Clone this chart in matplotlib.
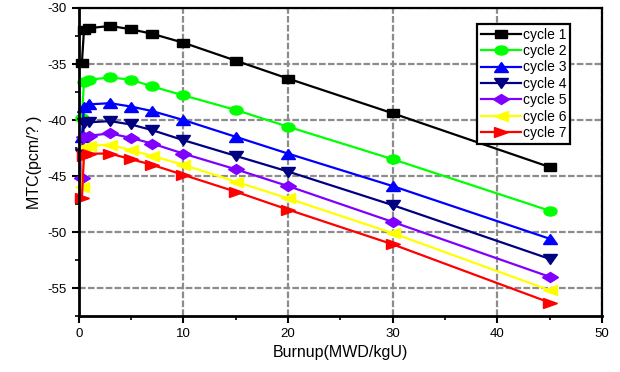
import matplotlib
matplotlib.use("Agg")
import matplotlib.pyplot as plt
from matplotlib.markers import MarkerStyle
from matplotlib.transforms import Affine2D

plt.rcParams['font.family'] = ['Liberation Sans', 'DejaVu Sans']
plt.rcParams['axes.unicode_minus'] = False

# burnup steps (MWD/kgU)
burnup = [0.3, 0.5, 1, 3, 5, 7, 10, 15, 20, 30, 45]

# MTC values
cycle1 = [-34.9, -32.0, -31.8, -31.6, -31.9, -32.3, -33.1, -34.7, -36.3, -39.4, -44.2]
cycle2 = [-39.8, -36.6, -36.4, -36.2, -36.4, -37.0, -37.8, -39.1, -40.6, -43.5, -48.1]
cycle3 = [-41.5, -38.8, -38.6, -38.5, -38.8, -39.2, -40.0, -41.5, -43.0, -45.9, -50.6]
cycle4 = [-43.0, -40.3, -40.2, -40.1, -40.4, -40.9, -41.8, -43.2, -44.6, -47.6, -52.4]
cycle5 = [-45.2, -41.5, -41.4, -41.2, -41.6, -42.1, -43.0, -44.4, -45.9, -49.1, -54.0]
cycle6 = [-46.0, -42.4, -42.3, -42.2, -42.7, -43.2, -44.0, -45.5, -47.0, -50.1, -55.2]
cycle7 = [-47.0, -43.2, -43.0, -43.0, -43.5, -44.0, -44.9, -46.4, -48.0, -51.1, -56.3]

series = [cycle1, cycle2, cycle3, cycle4, cycle5, cycle6, cycle7]
labels = ["cycle 1", "cycle 2", "cycle 3", "cycle 4", "cycle 5", "cycle 6", "cycle 7"]
colors = ["#000000", "#00ff00", "#0000ff", "#000080", "#8000ff", "#ffff00", "#ff0000"]
markers = ["s", "o", "^", "v", "D", "<", ">"]
sizes = [6, 6.5, 6.5, 6.5, 5.5, 6.5, 6.5]

fig = plt.figure(figsize=(6.2, 3.72), dpi=100)
ax = fig.add_axes([0.127, 0.1505, 0.844, 0.828])

# markers in the picture look stretched sideways
stretch = Affine2D().scale(1.45, 1.0)
for y, lab, c, m, s in zip(series, labels, colors, markers, sizes):
    ax.plot(burnup, y, color=c, lw=1.6, marker=MarkerStyle(m, transform=stretch),
            markersize=s, markeredgecolor=c, markerfacecolor=c, label=lab, clip_on=False, zorder=3)

ax.set_xlim(0, 50)
ax.set_ylim(-57.5, -30)
ax.set_xticks([0, 10, 20, 30, 40, 50])
ax.set_xticks([5, 15, 25, 35, 45], minor=True)
ax.set_yticks([-55, -50, -45, -40, -35, -30])
ax.set_yticks([-57.5, -52.5, -47.5, -42.5, -37.5, -32.5], minor=True)

ax.grid(True, which='major', color='#8c8c8c', linestyle=(0, (3, 1)), linewidth=1.6, zorder=0)
ax.set_axisbelow(True)

for sp in ax.spines.values():
    sp.set_linewidth(1.6)
    sp.set_zorder(4)
ax.spines['left'].set_linewidth(2)
ax.spines['bottom'].set_linewidth(2)

ax.tick_params(which='major', direction='out', length=5, width=1.5, labelsize=9.5)
ax.tick_params(which='minor', direction='out', length=3, width=1.2)
ax.tick_params(top=False, right=False)

ax.set_xlabel("Burnup(MWD/kgU)", fontsize=11.5, labelpad=4)
ax.set_ylabel("MTC(pcm/? )", fontsize=11.5, labelpad=4)

leg = ax.legend(loc='upper right', bbox_to_anchor=(0.953, 0.972), fontsize=10,
                handlelength=2.9, handletextpad=0.1, borderpad=0.3, labelspacing=0.17,
                fancybox=False, framealpha=1, edgecolor='black')
leg.get_frame().set_linewidth(1.6)

fig.savefig("out.png", dpi=100)
